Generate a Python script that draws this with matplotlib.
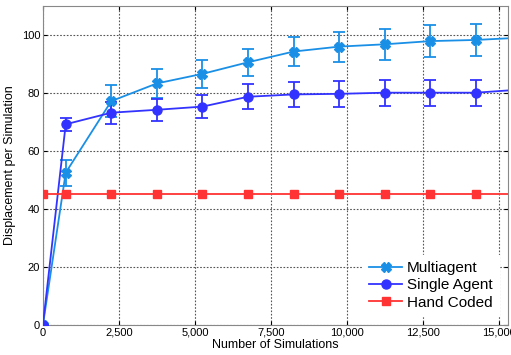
import matplotlib.pyplot as plt
from matplotlib.ticker import FuncFormatter

sims = [0, 750, 2250, 3750, 5250, 6750, 8250, 9750, 11250, 12750, 14250, 15750]

multi = [0, 52.5, 77.2, 83.3, 86.6, 90.6, 94.3, 96.0, 96.8, 97.9, 98.3, 99.1]
multi_err = [0, 4.5, 5.6, 5.0, 4.8, 4.7, 4.9, 5.2, 5.3, 5.4, 5.5, 5.5]

single = [0, 69.2, 73.2, 74.2, 75.3, 78.7, 79.5, 79.7, 80.1, 80.1, 80.1, 81.2]
single_err = [0, 2.2, 3.8, 3.8, 4.0, 4.4, 4.3, 4.4, 4.5, 4.5, 4.5, 4.5]

hand_x = [0, 750, 2250, 3750, 5250, 6750, 8250, 9750, 11250, 12750, 14250, 15750]
hand = [45] * len(hand_x)

plt.rcParams['font.family'] = ['Liberation Sans', 'DejaVu Sans']

fig = plt.figure(figsize=(5.11, 3.55), dpi=100)
ax = fig.add_axes([0.084, 0.085, 0.91, 0.898])

c_multi, c_single, c_hand = '#1a8fe6', '#3333ff', '#ff3333'

ax.errorbar(sims, multi, yerr=multi_err, color=c_multi, fmt='none',
            capsize=4, elinewidth=1.3, capthick=1.3, zorder=3)
ax.errorbar(sims, single, yerr=single_err, color=c_single, fmt='none',
            capsize=4, elinewidth=1.3, capthick=1.3, zorder=3)
l1, = ax.plot(sims, multi, color=c_multi, marker='X', markersize=7, lw=1.3,
              label='Multiagent', zorder=4)
l2, = ax.plot(sims, single, color=c_single, marker='o', markersize=6.5, lw=1.3,
              label='Single Agent', zorder=4)
l3, = ax.plot(hand_x, hand, color=c_hand, marker='s', markersize=6, lw=1.3,
              label='Hand Coded', zorder=4)

ax.set_xlim(0, 15300)
ax.set_ylim(0, 110)
ax.set_xticks(range(0, 15001, 2500))
ax.set_yticks(range(0, 101, 20))
ax.xaxis.set_major_formatter(FuncFormatter(lambda v, p: f'{int(v):,}'))
ax.grid(True, linestyle=(0, (1.5, 1.5)), color='#555555', lw=0.8)
ax.tick_params(direction='in', top=True, right=True, labelsize=8, length=3, pad=2)
for s in ax.spines.values():
    s.set_color('#888888')

ax.set_xlabel('Number of Simulations', fontsize=9, labelpad=1)
ax.set_ylabel('Displacement per Simulation', fontsize=9, labelpad=4)

ax.legend(handles=[l1, l2, l3], loc='lower right', fontsize=11, frameon=True,
          fancybox=False, edgecolor='white', framealpha=1, handlelength=2.2,
          borderaxespad=0.6, labelspacing=0.2, handletextpad=0.3)

fig.savefig('out.png', dpi=100)
